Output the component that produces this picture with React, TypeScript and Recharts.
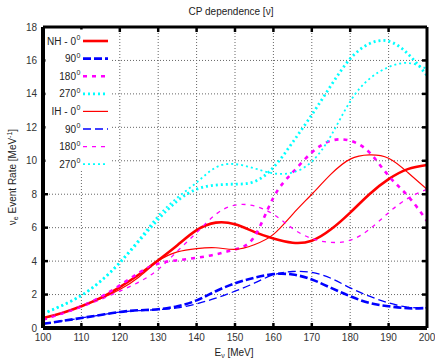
import React from "react";
import { LineChart, Line, XAxis, YAxis, CartesianGrid, ReferenceLine } from "recharts";

const energies = [100, 105, 110, 115, 120, 125, 130, 135, 140, 145, 150, 155, 160, 165, 170, 175, 180, 185, 190, 195, 200];
const nh0 = [0.6, 0.9, 1.3, 1.8, 2.45, 3.2, 4.05, 4.95, 5.85, 6.3, 6.2, 5.75, 5.35, 5.1, 5.22, 5.9, 6.9, 8.0, 8.9, 9.5, 9.75];
const nh90 = [0.25, 0.42, 0.6, 0.78, 0.96, 1.06, 1.12, 1.3, 1.65, 2.2, 2.67, 3.0, 3.22, 3.2, 2.9, 2.4, 1.9, 1.5, 1.3, 1.18, 1.2];
const nh180 = [0.5, 0.88, 1.3, 1.85, 2.55, 3.3, 3.85, 4.05, 4.2, 4.4, 4.7, 5.45, 7.8, 9.3, 10.5, 11.2, 11.2, 10.5, 9.1, 7.9, 6.4];
const nh270 = [0.85, 1.35, 1.95, 2.8, 3.9, 5.2, 6.5, 7.6, 8.3, 8.55, 8.6, 8.75, 9.6, 11.1, 12.75, 14.5, 16.1, 17.0, 17.15, 16.4, 15.1];
const ih0 = [0.55, 0.9, 1.3, 1.75, 2.3, 3.05, 4.0, 4.55, 4.75, 4.8, 4.7, 4.98, 5.6, 6.8, 8.0, 9.2, 10.1, 10.35, 10.15, 9.3, 8.3];
const ih90 = [0.25, 0.42, 0.6, 0.78, 0.95, 1.04, 1.1, 1.2, 1.45, 1.78, 2.2, 2.68, 3.18, 3.38, 3.32, 2.97, 2.4, 1.9, 1.5, 1.25, 1.2];
const ih180 = [0.5, 0.85, 1.25, 1.7, 2.2, 2.75, 3.5, 4.6, 5.7, 6.8, 7.35, 7.3, 6.8, 5.95, 5.35, 5.12, 5.25, 5.9, 6.9, 7.75, 8.3];
const ih270 = [0.85, 1.35, 1.95, 2.8, 3.95, 5.3, 6.7, 7.8, 8.7, 9.6, 9.8, 9.55, 9.25, 9.3, 9.95, 11.5, 13.55, 14.9, 15.6, 15.85, 15.5];

const xTicks = [100, 110, 120, 130, 140, 150, 160, 170, 180, 190, 200];
const yTicks = [0, 2, 4, 6, 8, 10, 12, 14, 16, 18];

const legendRows = [
  { h: "NH - 0", key: "nh0" },
  { h: "90", key: "nh90" },
  { h: "180", key: "nh180" },
  { h: "270", key: "nh270" },
  { h: "IH - 0", key: "ih0" },
  { h: "90", key: "ih90" },
  { h: "180", key: "ih180" },
  { h: "270", key: "ih270" },
];

const styles: Record<string, { color: string; width: number; dash?: string }> = {
  nh0: { color: "#ff0000", width: 2.6 },
  nh90: { color: "#0000ff", width: 2.6, dash: "8 3" },
  nh180: { color: "#ff00ff", width: 2.6, dash: "4 5" },
  nh270: { color: "#00ffff", width: 2.8, dash: "2 3" },
  ih0: { color: "#ff0000", width: 1.2 },
  ih90: { color: "#0000ff", width: 1.3, dash: "8 4" },
  ih180: { color: "#ff00ff", width: 1.3, dash: "4 5" },
  ih270: { color: "#00ffff", width: 1.8, dash: "2 3" },
};

const seriesValues: Record<string, number[]> = { nh0, nh90, nh180, nh270, ih0, ih90, ih180, ih270 };

const data = energies.map((e, i) => {
  const row: Record<string, number> = { e };
  Object.keys(seriesValues).forEach((k) => {
    row[k] = seriesValues[k][i];
  });
  return row;
});

const FONT = "'Liberation Sans Narrow', 'Arial Narrow', 'Liberation Sans', sans-serif";

export default function App() {
  return (
    <div style={{ position: "absolute", left: 0, top: 0, width: 435, height: 359, background: "#fff" }}>
      <LineChart
        width={435}
        height={359}
        data={data}
        margin={{ top: 27, right: 8, left: 0, bottom: 0 }}
      >
        <CartesianGrid stroke="#666" strokeDasharray="1 2" strokeWidth={1} />
        <XAxis
          dataKey="e"
          type="number"
          domain={[100, 200]}
          ticks={xTicks}
          height={31}
          axisLine={false}
          tickLine={false}
          tickSize={4}
          tickMargin={2}
          tick={{ fontSize: 10, fill: "#333", fontFamily: FONT }}
          allowDataOverflow
        />
        <YAxis
          type="number"
          domain={[0, 18]}
          ticks={yTicks}
          width={43}
          axisLine={false}
          tickLine={false}
          tickSize={4}
          tickMargin={2}
          tick={{ fontSize: 10, fill: "#333", fontFamily: FONT }}
          allowDataOverflow
        />
        {Object.keys(seriesValues).map((k) => (
          <Line
            key={k}
            dataKey={k}
            type="natural"
            stroke={styles[k].color}
            strokeWidth={styles[k].width}
            strokeDasharray={styles[k].dash}
            dot={false}
            activeDot={false}
            isAnimationActive={false}
          />
        ))}
        {xTicks.slice(1, -1).map((t) => (
          <ReferenceLine key={"bt" + t} segment={[{ x: t, y: 0 }, { x: t, y: 0.3 }]} stroke="#000" strokeWidth={2.5} ifOverflow="visible" />
        ))}
        {xTicks.slice(1, -1).map((t) => (
          <ReferenceLine key={"tt" + t} segment={[{ x: t, y: 18 }, { x: t, y: 17.7 }]} stroke="#000" strokeWidth={2.5} ifOverflow="visible" />
        ))}
        {yTicks.slice(1, -1).map((t) => (
          <ReferenceLine key={"lt" + t} segment={[{ x: 100, y: t }, { x: 101.3, y: t }]} stroke="#000" strokeWidth={2.5} ifOverflow="visible" />
        ))}
        {yTicks.slice(1, -1).map((t) => (
          <ReferenceLine key={"rt" + t} segment={[{ x: 200, y: t }, { x: 198.7, y: t }]} stroke="#000" strokeWidth={2.5} ifOverflow="visible" />
        ))}
        <ReferenceLine x={100} stroke="#000" strokeWidth={4} ifOverflow="visible" />
        <ReferenceLine x={200} stroke="#000" strokeWidth={3} ifOverflow="visible" />
        <ReferenceLine y={0} stroke="#000" strokeWidth={4} ifOverflow="visible" />
        <ReferenceLine y={18} stroke="#000" strokeWidth={3} ifOverflow="visible" />
      </LineChart>
      <svg
        width={435}
        height={359}
        style={{ position: "absolute", left: 0, top: 0, pointerEvents: "none" }}
      >
        <text x={231} y={15} textAnchor="middle" fontSize={10} fontFamily={FONT} fill="#222">
          CP dependence [ν]
        </text>
        <text x={234} y={356} textAnchor="middle" fontSize={10} fontFamily={FONT} fill="#222">
          E<tspan fontSize={7} dy={2}>ν</tspan>
          <tspan dy={-2}> [MeV]</tspan>
        </text>
        <text
          x={0}
          y={0}
          transform="translate(16,177) rotate(-90)"
          textAnchor="middle"
          fontSize={10}
          fontFamily={FONT}
          fill="#222"
        >
          ν<tspan fontSize={7} dy={2}>e</tspan>
          <tspan dy={-2}> Event Rate [MeV</tspan>
          <tspan fontSize={7} dy={-4}>-1</tspan>
          <tspan dy={4}>]</tspan>
        </text>
        <rect x={45.5} y={29.5} width={66} height={141} fill="#fff" />
        {legendRows.map((r, i) => {
          const y = 41 + i * 17.6;
          const s = styles[r.key];
          return (
            <g key={r.key}>
              <text x={76} y={y + 3.5} textAnchor="end" fontSize={10} fontFamily={FONT} fill="#222">
                {r.h}
              </text>
              <text x={76.5} y={y - 1} textAnchor="start" fontSize={7} fontFamily={FONT} fill="#222">
                0
              </text>
              <line x1={83} x2={108} y1={y} y2={y} stroke={s.color} strokeWidth={s.width} strokeDasharray={s.dash} />
            </g>
          );
        })}
      </svg>
    </div>
  );
}
